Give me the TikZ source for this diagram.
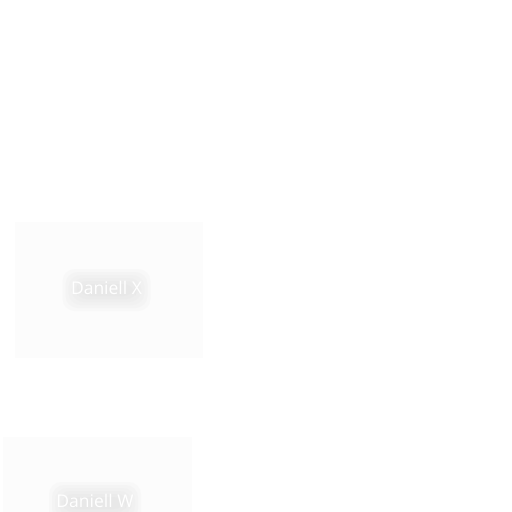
\documentclass[tikz,border=0pt]{standalone}
\usepackage{fontspec}
\setmainfont{Open Sans}
\usepackage{tikz}
\usetikzlibrary{positioning,calc}
\definecolor{panelgrey}{HTML}{FCFCFC}
\definecolor{glowgrey}{HTML}{A0A0A0}
\tikzset{
panel/.style={fill=panelgrey,draw=none},
label/.style={text=white,font=\fontsize{17.5}{19}\selectfont,inner sep=0pt}
}
% soft grey halo behind a white label
\newcommand{\halo}[2]{%
\foreach \r in {0,3,...,15}
  \fill[glowgrey,opacity=0.035,rounded corners=12pt]
    ($(#1)+(-#2/2+6-\r,-4-\r)$) rectangle ($(#1)+(#2/2-6+\r,8+\r)$);}
\begin{document}
\begin{tikzpicture}[x=1pt,y=-1pt]
\useasboundingbox[fill=white] (0,0) rectangle (512,512);
\node[panel,minimum width=188pt,minimum height=136pt] (PX) at (109,290) {};
\node[panel,minimum width=189pt,minimum height=80pt] (PW) at (97.5,477) {};
\coordinate (cx) at (106.5,288);
\coordinate (cw) at (95,501);
\halo{cx}{70}
\halo{cw}{74}
\node[label] (DX) at (cx) {Daniell X};
\node[label] (DW) at (cw) {Daniell W};
\end{tikzpicture}
\end{document}
